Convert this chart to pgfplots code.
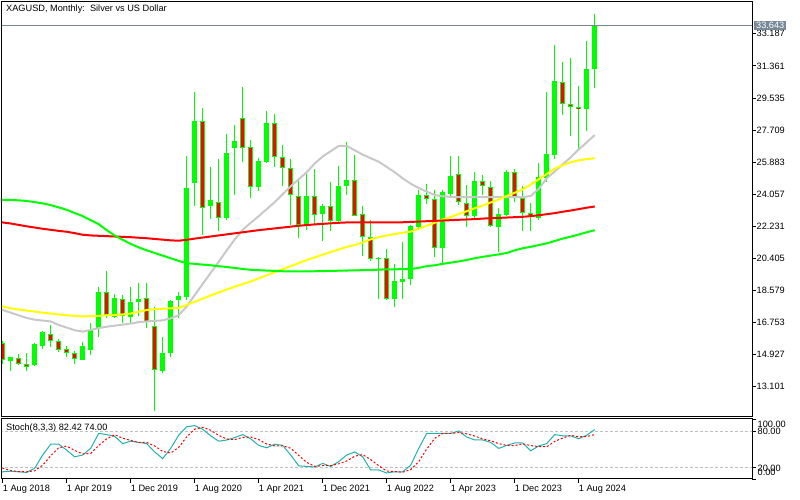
\documentclass[border=0pt]{standalone}
\usepackage{pgfplots}
\pgfplotsset{compat=1.18}
\usepackage{pgfplotstable}
\usepackage{fontspec}
\setmainfont{Liberation Sans}
\newcommand{\fs}{\fontsize{9.2pt}{10pt}\selectfont}
\definecolor{mtgreen}{RGB}{0,255,0}
\definecolor{mtred}{RGB}{255,0,0}
\definecolor{magray}{RGB}{200,200,200}
\definecolor{mayellow}{RGB}{255,255,0}
\definecolor{stochteal}{RGB}{32,178,170}
\definecolor{bidgray}{RGB}{119,136,153}
\definecolor{levelgray}{RGB}{192,192,192}

\pgfplotstableread{
i o h l c
1 14.53 14.80 13.95 14.76
4 14.29 15.60 14.25 15.53
5 15.42 16.27 15.23 16.18
10 14.63 15.63 14.60 15.42
11 15.20 16.69 14.91 16.33
12 16.38 18.75 15.92 18.46
14 17.05 18.38 17.00 18.13
16 17.05 18.75 16.66 17.90
17 17.90 19.00 17.10 18.08
20 13.96 15.92 13.87 15.00
21 15.00 18.00 14.78 17.95
22 18.03 18.46 17.00 18.25
23 18.20 26.20 18.00 24.41
24 24.70 29.86 23.40 28.20
26 23.35 25.60 22.65 23.70
28 22.69 27.48 22.60 26.38
29 26.70 28.00 24.00 27.08
32 24.45 26.10 24.26 25.95
33 25.90 28.80 25.85 28.10
38 22.27 25.19 22.02 23.95
40 22.90 23.50 21.40 23.40
42 22.53 25.67 22.35 24.53
43 24.53 27.04 24.00 24.87
47 20.33 20.45 18.10 20.40
49 18.07 20.06 17.60 19.12
50 19.07 21.30 18.10 19.23
51 19.20 22.30 18.90 22.25
52 22.20 24.30 22.15 24.00
55 21.00 24.30 20.00 24.20
56 24.07 26.20 23.90 25.10
59 22.82 25.34 22.60 24.82
62 22.20 23.28 20.74 22.90
63 22.87 25.40 22.80 25.34
67 22.69 25.80 22.60 25.05
68 25.00 29.89 24.76 26.34
69 26.30 32.56 26.05 30.50
73 28.89 32.77 27.67 31.17
74 31.17 34.30 30.12 33.643
}\bull

\pgfplotstableread{
i o h l c
0 15.57 15.70 14.35 14.63
2 14.72 14.97 14.30 14.35
3 14.35 15.00 13.95 14.22
6 16.08 16.60 15.33 15.67
7 15.71 15.80 15.05 15.20
8 15.23 15.42 14.78 15.00
9 15.00 15.10 14.35 14.66
13 18.46 19.69 17.00 17.15
15 18.10 18.30 16.70 17.09
18 18.13 19.00 16.43 16.75
19 16.53 17.62 11.68 14.06
25 28.20 28.96 21.74 23.25
27 23.63 26.06 21.93 22.69
30 28.40 30.14 25.90 26.67
31 26.76 27.14 23.82 24.45
34 28.10 28.62 25.60 26.16
35 26.16 26.86 24.53 25.53
36 25.53 26.06 22.31 24.00
37 23.95 24.92 21.55 22.27
39 23.95 25.49 22.27 22.84
41 23.39 24.74 21.98 22.53
44 24.83 26.29 22.78 22.82
45 22.92 23.35 20.50 21.60
46 21.60 22.58 20.25 20.35
48 20.40 20.90 18.00 18.07
53 24.03 24.62 23.50 23.77
54 23.77 24.30 20.47 21.00
57 25.19 26.20 23.45 23.58
58 23.54 24.58 22.16 22.82
60 24.82 25.15 24.00 24.53
61 24.46 24.82 22.16 22.25
64 25.34 25.50 23.60 23.83
65 23.83 24.50 21.98 23.00
66 22.97 23.55 21.98 22.82
70 30.43 31.60 28.57 29.18
71 29.18 31.79 27.34 29.04
72 29.04 30.21 26.57 28.89
}\bear

\pgfplotstableread{
i gray yellow red green
-1 17.60 17.72 22.50 23.74
0 17.45 17.65 22.44 23.73
1 17.30 17.55 22.38 23.72
2 17.15 17.48 22.30 23.70
3 17.00 17.42 22.22 23.66
4 16.90 17.36 22.15 23.60
5 16.85 17.30 22.08 23.53
6 16.80 17.25 22.02 23.43
7 16.60 17.20 21.96 23.30
8 16.45 17.15 21.91 23.16
9 16.30 17.12 21.83 22.98
10 16.22 17.09 21.74 22.80
11 16.32 17.10 21.70 22.57
12 16.42 17.12 21.68 22.34
13 16.50 17.15 21.66 22.00
14 16.56 17.17 21.64 21.70
15 16.62 17.20 21.62 21.45
16 16.68 17.25 21.60 21.22
17 16.76 17.35 21.57 21.02
18 16.80 17.45 21.54 20.85
19 16.83 17.50 21.50 20.70
20 16.86 17.52 21.46 20.55
21 16.98 17.55 21.42 20.40
22 17.15 17.56 21.40 20.25
23 17.66 17.75 21.45 20.12
24 18.30 17.92 21.52 20.08
25 18.94 18.10 21.58 20.04
26 19.57 18.28 21.64 20.00
27 20.20 18.45 21.70 19.95
28 20.85 18.62 21.76 19.90
29 21.47 18.78 21.82 19.85
30 22.02 18.93 21.88 19.79
31 22.42 19.08 21.94 19.74
32 22.80 19.25 22.00 19.72
33 23.20 19.43 22.05 19.70
34 23.60 19.60 22.10 19.68
35 24.05 19.78 22.15 19.66
36 24.50 19.95 22.20 19.65
37 24.90 20.12 22.25 19.65
38 25.30 20.30 22.29 19.65
39 25.80 20.45 22.33 19.66
40 26.20 20.60 22.36 19.67
41 26.50 20.75 22.39 19.68
42 26.80 20.90 22.42 19.69
43 26.80 21.05 22.44 19.70
44 26.55 21.15 22.44 19.71
45 26.30 21.30 22.44 19.72
46 26.10 21.48 22.44 19.73
47 25.90 21.60 22.44 19.75
48 25.60 21.70 22.44 19.77
49 25.30 21.78 22.44 19.77
50 24.95 21.85 22.45 19.78
51 24.65 21.92 22.47 19.79
52 24.40 22.08 22.49 19.85
53 24.20 22.25 22.51 19.95
54 24.00 22.42 22.53 20.00
55 23.93 22.60 22.55 20.08
56 23.90 22.75 22.57 20.15
57 23.88 22.92 22.59 20.22
58 23.88 23.08 22.61 20.30
59 23.88 23.25 22.63 20.40
60 23.88 23.40 22.66 20.48
61 23.88 23.58 22.68 20.55
62 23.88 23.75 22.70 20.62
63 23.88 23.95 22.72 20.70
64 23.88 24.13 22.74 20.85
65 23.88 24.32 22.76 20.97
66 23.95 24.60 22.80 21.05
67 24.35 24.90 22.85 21.15
68 24.95 25.20 22.91 21.25
69 25.35 25.50 22.97 21.38
70 25.75 25.70 23.05 21.52
71 26.15 25.87 23.12 21.63
72 26.60 25.98 23.20 21.75
73 27.00 26.05 23.28 21.88
74 27.42 26.10 23.35 22.00
}\ma

\pgfplotstableread{
i k d
-1 12 22
0 12 18
1 13 14
2 12 12.3
3 11 12
4 18 13.7
5 40 23
6 58 38.7
7 58 52
8 48 54.7
9 37 47.7
10 40 41.7
11 51 42.7
12 76 55.7
13 74 67
14 71 73.7
15 59 68
16 63 64.3
17 61 61
18 59 61
19 45 55
20 34 46
21 51 43.3
22 73 52.7
23 87 70.3
24 89 83
25 83 86.3
26 72 81.3
27 63 72.7
28 65 66.7
29 69 65.7
30 74 69.3
31 67 70
32 56 65.7
33 52 58.3
34 58 55.3
35 56 55.3
36 40 51.3
37 22 39.3
38 21 27.7
39 20 21
40 26 22.3
41 21 22.3
42 29 25.3
43 40 30
44 45 38
45 37 40.7
46 15 32.3
47 15 22.3
48 10 13.3
49 12 12.3
50 12 11.3
51 23 15.7
52 51 28.7
53 76 50
54 76 67.7
55 76 76
56 76 76
57 80 77.3
58 70 75.3
59 65 71.7
60 65 66.7
61 61 63.7
62 51 59
63 56 56
64 60 55.7
65 60 58.7
66 47 55.7
67 55 54
68 59 53.7
69 74 62.7
70 72 68.3
71 72 72.7
72 67 70.3
73 73 70.7
74 82.42 74.00
}\stoch

\begin{document}
\begin{tikzpicture}[x=1pt,y=1pt]
\path[use as bounding box] (0,0) rectangle (800,500);
\begin{axis}[
  at={(2pt,83pt)}, anchor=south west, scale only axis,
  width=750pt, height=415pt,
  xmin=-0.0875, xmax=93.66, ymin=11.356, ymax=35.0,
  axis line style={black, line width=1pt},
  xtick=\empty,
  ytick={13.101,14.927,16.753,18.579,20.405,22.231,24.057,25.883,27.709,29.535,31.361,33.187},
  yticklabels={13.101,14.927,16.753,18.579,20.405,22.231,24.057,25.883,27.709,29.535,31.361,33.187},
  ytick pos=right, yticklabel pos=right,
  tick align=outside, major tick length=4pt,
  tick style={black, line width=0.8pt},
  yticklabel style={font=\fs, anchor=west, inner sep=0.5pt},
  /pgf/number format/assume math mode=true,
  candle/.style={draw=none, mark=none, forget plot,
    error bars/.cd, y dir=plus, y explicit, error mark=none},
]
% wicks
\addplot[candle, error bar style={line width=1pt, draw=mtgreen}]
  table[x=i, y=l, y error plus expr={\thisrow{h}-\thisrow{l}}] {\bull};
\addplot[candle, error bar style={line width=1pt, draw=mtgreen}]
  table[x=i, y=l, y error plus expr={\thisrow{h}-\thisrow{l}}] {\bear};
% bodies
\addplot[candle, error bar style={line width=5pt, draw=mtgreen}]
  table[x=i, y=o, y error plus expr={max(\thisrow{c}-\thisrow{o},0.06)}] {\bull};
\addplot[candle, error bar style={line width=5pt, draw=mtgreen}]
  table[x=i, y=c, y error plus expr={max(\thisrow{o}-\thisrow{c},0.06)}] {\bear};
\addplot[candle, error bar style={line width=3pt, draw=mtred}]
  table[x=i, y expr={\thisrow{c}+0.057}, y error plus expr={max(\thisrow{o}-\thisrow{c}-0.114,0.03)}] {\bear};
% moving averages
\addplot[magray, line width=2pt, mark=none] table[x=i, y=gray] {\ma};
\addplot[mayellow, line width=2pt, mark=none] table[x=i, y=yellow] {\ma};
\addplot[mtred, line width=2pt, mark=none] table[x=i, y=red] {\ma};
\addplot[mtgreen, line width=2pt, mark=none] table[x=i, y=green] {\ma};
% bid line
\addplot[bidgray, line width=1pt, mark=none] coordinates {(-1,33.643) (95,33.643)};
\end{axis}

\begin{axis}[
  at={(2pt,21pt)}, anchor=south west, scale only axis,
  width=750pt, height=60pt,
  xmin=-0.0875, xmax=93.66, ymin=0, ymax=100,
  axis line style={black, line width=1pt},
  xtick={0,8,16,24,32,40,48,56,64,72},
  xticklabels={1 Aug 2018,1 Apr 2019,1 Dec 2019,1 Aug 2020,1 Apr 2021,1 Dec 2021,1 Aug 2022,1 Apr 2023,1 Dec 2023,1 Aug 2024},
  xtick pos=left,
  xticklabel style={font=\fs, anchor=north west, inner sep=0pt, yshift=-1.5pt},
  ytick={0,20,80,100}, yticklabels={},
  ytick pos=right,
  tick align=outside, major tick length=4pt,
  tick style={black, line width=0.8pt},
  /pgf/number format/assume math mode=true,
]
\addplot[levelgray, line width=0.8pt, dash pattern=on 3pt off 2pt, mark=none] coordinates {(-1,80) (95,80)};
\addplot[levelgray, line width=0.8pt, dash pattern=on 3pt off 2pt, mark=none] coordinates {(-1,20) (95,20)};
\addplot[stochteal, line width=1pt, mark=none] table[x=i, y=k] {\stoch};
\addplot[mtred, line width=1pt, dash pattern=on 2pt off 2pt, mark=none] table[x=i, y=d] {\stoch};
\end{axis}

% texts
\node[anchor=west, font=\fs, inner sep=0pt] at (6,491) {XAGUSD, Monthly:\ \ Silver vs US Dollar};
\node[anchor=west, font=\fs, inner sep=0pt] at (6,71.7) {Stoch(8,3,3) 82.42 74.00};
\node[anchor=west, font=\fs, fill=bidgray, text=white, inner xsep=2pt, inner ysep=0pt, minimum height=9.5pt] at (754,474.5) {33.643};
\node[anchor=west, font=\fs, inner sep=0pt] at (757.5,76) {100.00};
\node[anchor=west, font=\fs, inner sep=0pt] at (757.5,68.5) {80.00};
\node[anchor=west, font=\fs, inner sep=0pt] at (757.5,32) {20.00};
\node[anchor=west, font=\fs, inner sep=0pt] at (757.5,27.5) {0.00};
\end{tikzpicture}
\end{document}
